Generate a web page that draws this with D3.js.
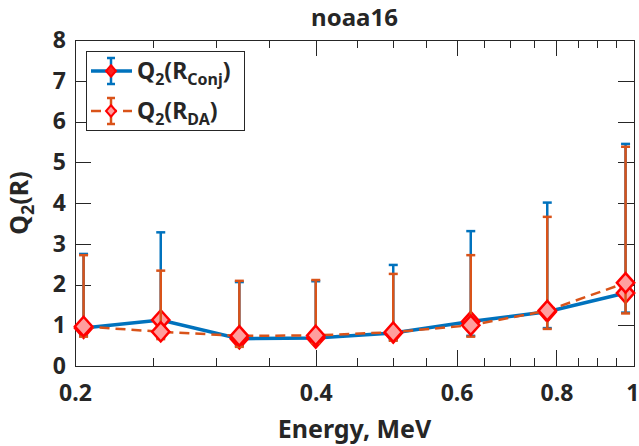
<!DOCTYPE html>
<html lang="en">

<head>
  <meta charset="utf-8">
  <title>noaa16</title>
  <script type="text/javascript" src="https://d3js.org/d3.v7.min.js"></script>
  <style>
    body {
      margin: 0;
      background: #ffffff;
    }

    text {
      font-family: "Noto Sans", "Open Sans", sans-serif;
      font-weight: bold;
      fill: #262626;
    }

    .axis path,
    .axis line {
      stroke: #262626;
      stroke-width: 1;
      shape-rendering: crispEdges;
    }

    .axis text {
      font-size: 23px;
      font-family: "Noto Sans", "Open Sans", sans-serif;
      font-weight: bold;
      fill: #262626;
    }

    path.conj-line {
      stroke: #0072bd;
      stroke-width: 3.5;
      fill: none;
    }

    path.da-line {
      stroke: #d95319;
      stroke-width: 2.5;
      stroke-dasharray: 10 6;
      fill: none;
    }

    .marker {
      stroke: #ff0000;
      stroke-width: 2.5;
      fill: #ff9e9e;
    }
  </style>
</head>

<body>
  <div id="container"></div>
  <script type="text/javascript">
    //----------------DATA----------------//
    var energy = [0.205, 0.256, 0.321, 0.4, 0.5, 0.625, 0.779, 0.976];

    // Q2(R_Conj)
    var conjValue = [0.93, 1.13, 0.67, 0.69, 0.81, 1.09, 1.33, 1.79];
    var conjLower = [0.74, 0.70, 0.50, 0.58, 0.64, 0.74, 0.93, 1.31];
    var conjUpper = [2.75, 3.28, 2.06, 2.08, 2.48, 3.31, 4.01, 5.45];

    // Q2(R_DA)
    var daValue = [0.97, 0.84, 0.74, 0.75, 0.83, 1.00, 1.36, 2.04];
    var daLower = [0.72, 0.66, 0.47, 0.56, 0.62, 0.72, 0.91, 1.29];
    var daUpper = [2.72, 2.34, 2.09, 2.11, 2.26, 2.72, 3.66, 5.38];

    var xMajorTicks = [0.2, 0.4, 0.6, 0.8, 1];
    var xMinorTicks = [0.25, 0.3, 0.35, 0.45, 0.5, 0.55, 0.65, 0.7, 0.75, 0.85, 0.9, 0.95];
    var yTicks = [0, 1, 2, 3, 4, 5, 6, 7, 8];

    //----------------CANVAS PREPARATION----------------//
    var W = 639;
    var H = 446;
    var plotLeft = 75, plotRight = 634, plotTop = 40, plotBottom = 366;

    var svg = d3.select("div#container").append("svg")
      .attr("width", W)
      .attr("height", H);

    var xScale = d3.scaleLog()
      .domain([0.2, 1])
      .range([plotLeft, plotRight]);

    var yScale = d3.scaleLinear()
      .domain([0, 8])
      .range([plotBottom, plotTop]);

    //AXES (ticks point inward, box on)
    var xAxisBottom = d3.axisBottom(xScale)
      .tickValues(xMajorTicks)
      .tickFormat(d3.format("~g"))
      .tickSize(-16)
      .tickSizeOuter(0);

    var xAxisBottomMinor = d3.axisBottom(xScale)
      .tickValues(xMinorTicks)
      .tickFormat("")
      .tickSize(-8)
      .tickSizeOuter(0);

    var xAxisTop = d3.axisTop(xScale)
      .tickValues(xMajorTicks)
      .tickFormat("")
      .tickSize(-16)
      .tickSizeOuter(0);

    var xAxisTopMinor = d3.axisTop(xScale)
      .tickValues(xMinorTicks)
      .tickFormat("")
      .tickSize(-8)
      .tickSizeOuter(0);

    var yAxisLeft = d3.axisLeft(yScale)
      .tickValues(yTicks)
      .tickFormat(d3.format("d"))
      .tickSize(-16)
      .tickSizeOuter(0)
      .tickPadding(9);

    var yAxisRight = d3.axisRight(yScale)
      .tickValues(yTicks)
      .tickFormat("")
      .tickSize(-16)
      .tickSizeOuter(0);

    svg.append("g")
      .attr("class", "axis")
      .attr("transform", "translate(0," + plotBottom + ")")
      .call(xAxisBottom)
      .selectAll("text")
      .attr("dy", 0)
      .attr("y", 35)
      // keep the last label ("1") inside the picture
      .filter(function (d) { return d === 1; })
      .attr("text-anchor", "end")
      .attr("x", 5);

    svg.append("g")
      .attr("class", "axis")
      .attr("transform", "translate(0," + plotBottom + ")")
      .call(xAxisBottomMinor);

    svg.append("g")
      .attr("class", "axis")
      .attr("transform", "translate(0," + plotTop + ")")
      .call(xAxisTop);

    svg.append("g")
      .attr("class", "axis")
      .attr("transform", "translate(0," + plotTop + ")")
      .call(xAxisTopMinor);

    svg.append("g")
      .attr("class", "axis")
      .attr("transform", "translate(" + plotLeft + ",0)")
      .call(yAxisLeft);

    svg.append("g")
      .attr("class", "axis")
      .attr("transform", "translate(" + plotRight + ",0)")
      .call(yAxisRight);

    //TITLE AND LABELS
    svg.append("text")
      .attr("x", (plotLeft + plotRight) / 2)
      .attr("y", 26)
      .attr("text-anchor", "middle")
      .style("font-size", "24px")
      .text("noaa16");

    svg.append("text")
      .attr("x", (plotLeft + plotRight) / 2)
      .attr("y", 438)
      .attr("text-anchor", "middle")
      .style("font-size", "25px")
      .text("Energy, MeV");

    var ylab = svg.append("text")
      .attr("transform", "translate(28," + (plotTop + plotBottom) / 2 + ") rotate(-90)")
      .attr("text-anchor", "middle")
      .style("font-size", "25px");
    ylab.append("tspan").text("Q");
    ylab.append("tspan").attr("dy", 6).style("font-size", "18px").text("2");
    ylab.append("tspan").attr("dy", -6).text("(R)");

    //----------------SERIES----------------//
    // diamond = rotated square, slightly taller than wide
    var diamond = d3.symbol().type(d3.symbolSquare).size(150);

    function drawSeries(values, lower, upper, color, lineClass) {
      var pts = energy.map(function (e, i) {
        return { x: e, y: values[i], lo: lower[i], hi: upper[i] };
      });
      var g = svg.append("g");

      //ERROR BARS
      var bars = g.selectAll("g.bar").data(pts).enter().append("g")
        .attr("stroke", color)
        .attr("stroke-width", 2.5);
      bars.append("line")
        .attr("x1", function (d) { return xScale(d.x); })
        .attr("x2", function (d) { return xScale(d.x); })
        .attr("y1", function (d) { return yScale(d.lo); })
        .attr("y2", function (d) { return yScale(d.hi); });
      bars.append("line")
        .attr("x1", function (d) { return xScale(d.x) - 4.5; })
        .attr("x2", function (d) { return xScale(d.x) + 4.5; })
        .attr("y1", function (d) { return yScale(d.hi); })
        .attr("y2", function (d) { return yScale(d.hi); });
      bars.append("line")
        .attr("x1", function (d) { return xScale(d.x) - 4.5; })
        .attr("x2", function (d) { return xScale(d.x) + 4.5; })
        .attr("y1", function (d) { return yScale(d.lo); })
        .attr("y2", function (d) { return yScale(d.lo); });

      //LINE
      var line = d3.line()
        .x(function (d) { return xScale(d.x); })
        .y(function (d) { return yScale(d.y); });
      g.append("path")
        .attr("class", lineClass)
        .attr("d", line(pts));

      //MARKERS
      g.selectAll("path.marker").data(pts).enter().append("path")
        .attr("class", "marker")
        .attr("d", diamond)
        .attr("vector-effect", "non-scaling-stroke")
        .attr("transform", function (d) {
          return "translate(" + xScale(d.x) + "," + yScale(d.y) + ") scale(1,1.12) rotate(45)";
        });
    }

    drawSeries(conjValue, conjLower, conjUpper, "#0072bd", "conj-line");
    drawSeries(daValue, daLower, daUpper, "#d95319", "da-line");

    //----------------LEGEND----------------//
    var legend = svg.append("g");
    legend.append("rect")
      .attr("x", 86.5)
      .attr("y", 51.5)
      .attr("width", 158)
      .attr("height", 79)
      .attr("fill", "#ffffff")
      .attr("stroke", "#262626")
      .attr("stroke-width", 1);

    var legendItems = [
      { sub: "Conj", color: "#0072bd", cls: "conj-line", fill: "#ff2020", y: 71 },
      { sub: "DA", color: "#d95319", cls: "da-line", fill: "#ff9e9e", y: 111 }
    ];

    legendItems.forEach(function (it) {
      var g = legend.append("g").attr("transform", "translate(111," + it.y + ")");
      g.append("path")
        .attr("class", it.cls)
        .attr("stroke-dasharray", it.cls === "da-line" ? "6 5" : null)
        .attr("d", "M-20,0H21");
      g.append("line").attr("y1", -13).attr("y2", 13)
        .attr("stroke", it.color).attr("stroke-width", 2.5);
      g.append("line").attr("x1", -4).attr("x2", 4).attr("y1", -13).attr("y2", -13)
        .attr("stroke", it.color).attr("stroke-width", 2.5);
      g.append("line").attr("x1", -4).attr("x2", 4).attr("y1", 13).attr("y2", 13)
        .attr("stroke", it.color).attr("stroke-width", 2.5);
      g.append("path")
        .attr("class", "marker")
        .attr("d", d3.symbol().type(d3.symbolSquare).size(50))
        .attr("vector-effect", "non-scaling-stroke")
        .style("fill", it.fill)
        .style("stroke-width", 2)
        .attr("transform", "scale(1,1.15) rotate(45)");

      var t = legend.append("text")
        .attr("x", 137)
        .attr("y", it.y + 8)
        .style("font-size", "23px");
      t.append("tspan").text("Q");
      t.append("tspan").attr("dy", 6).style("font-size", "16px").text("2");
      t.append("tspan").attr("dy", -6).text("(R");
      t.append("tspan").attr("dy", 6).style("font-size", "16px").text(it.sub);
      t.append("tspan").attr("dy", -6).text(")");
    });
  </script>
</body>

</html>
